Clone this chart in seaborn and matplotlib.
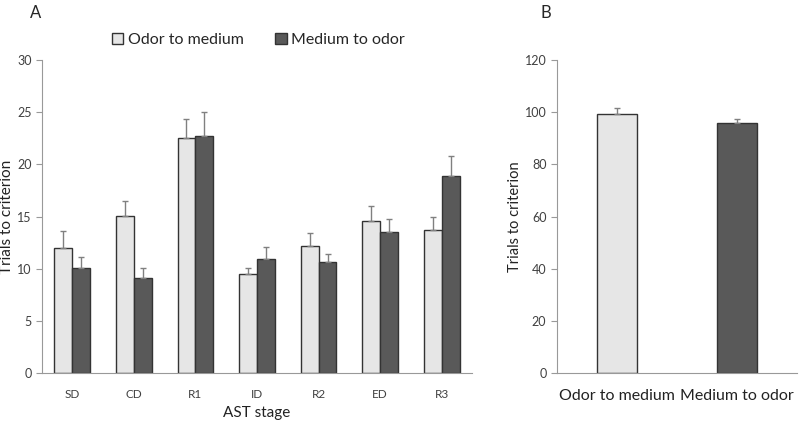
import numpy as np
import pandas as pd
import seaborn as sns
import matplotlib.pyplot as plt
from matplotlib.patches import Patch

# Panel A data
stages = ["SD", "CD", "R1", "ID", "R2", "ED", "R3"]
odor_to_medium = [12.0, 15.1, 22.5, 9.5, 12.2, 14.6, 13.7]
odor_to_medium_err = [1.6, 1.4, 1.9, 0.6, 1.2, 1.4, 1.3]
medium_to_odor = [10.1, 9.1, 22.7, 10.9, 10.6, 13.5, 18.9]
medium_to_odor_err = [1.0, 1.0, 2.3, 1.2, 0.8, 1.3, 1.9]

# Panel B data
groups = ["Odor to medium", "Medium to odor"]
total_trials = [99.5, 95.8]
total_err = [2.0, 1.8]

light = "#e6e6e6"
dark = "#595959"
edge = "#333333"
errc = "#808080"
textc = "#404040"

sns.set_style("white")
plt.rcParams["font.family"] = ["Lato", "DejaVu Sans"]

df = pd.DataFrame({
    "stage": stages * 2,
    "trials": odor_to_medium + medium_to_odor,
    "group": [groups[0]] * 7 + [groups[1]] * 7,
})

fig = plt.figure(figsize=(8, 4.21), dpi=100)
axA = fig.add_axes([0.0525, 0.114, 0.5375, 0.743])
axB = fig.add_axes([0.696, 0.114, 0.30, 0.743])

# Panel A
sns.barplot(data=df, x="stage", y="trials", hue="group", palette=[light, dark],
            width=0.58, gap=0, edgecolor=edge, linewidth=1.0, errorbar=None,
            ax=axA, legend=False)
errs = odor_to_medium_err + medium_to_odor_err
for p, e in zip(axA.patches, errs):
    xc = p.get_x() + p.get_width() / 2
    axA.errorbar(xc, p.get_height(), yerr=[[0], [e]], fmt="none",
                 ecolor=errc, elinewidth=1.0, capsize=2, capthick=1.0)
axA.set_xlim(-0.49, 6.49)
axA.set_ylim(0, 30)
axA.set_yticks(range(0, 31, 5))
axA.set_xlabel("AST stage", fontsize=11, color="#222222", labelpad=4)
axA.set_ylabel("Trials to criterion", fontsize=11, color="#222222")
axA.yaxis.set_label_coords(-0.066, 0.5)

# Panel B
sns.barplot(x=groups, y=total_trials, hue=groups, palette=[light, dark],
            width=0.33, edgecolor=edge, linewidth=1.0, errorbar=None,
            ax=axB, legend=False)
for p, e in zip(axB.patches, total_err):
    xc = p.get_x() + p.get_width() / 2
    axB.errorbar(xc, p.get_height(), yerr=[[0], [e]], fmt="none",
                 ecolor=errc, elinewidth=1.0, capsize=2, capthick=1.0)
axB.set_xlim(-0.5, 1.5)
axB.set_ylim(0, 120)
axB.set_yticks(range(0, 121, 20))
axB.set_ylabel("Trials to criterion", fontsize=10.5, color="#222222")
axB.yaxis.set_label_coords(-0.145, 0.5)
axB.set_xlabel("")

for ax in (axA, axB):
    sns.despine(ax=ax)
    ax.spines["left"].set_color("#999999")
    ax.spines["bottom"].set_color("#999999")
    ax.tick_params(axis="y", left=True, length=4, color="#999999",
                   labelsize=9, labelcolor=textc)
    ax.tick_params(axis="x", bottom=False, labelcolor=textc)
axA.tick_params(axis="x", labelsize=8.5, pad=8)
axB.tick_params(axis="x", labelsize=11.5, pad=8)
axB.set_xticks([0, 1])
axB.set_xticklabels(groups, color="#222222")

handles = [Patch(facecolor=light, edgecolor=edge, label=groups[0]),
           Patch(facecolor=dark, edgecolor=edge, label=groups[1])]
fig.legend(handles=handles, loc="center", bbox_to_anchor=(0.323, 0.905), ncol=2,
           frameon=False, fontsize=11.5, handlelength=0.7, handleheight=0.7,
           handletextpad=0.3, columnspacing=2.0)

fig.text(0.037, 0.97, "A", fontsize=12, va="center", ha="left")
fig.text(0.675, 0.97, "B", fontsize=12, va="center", ha="left")

fig.savefig("out.png", dpi=100)
